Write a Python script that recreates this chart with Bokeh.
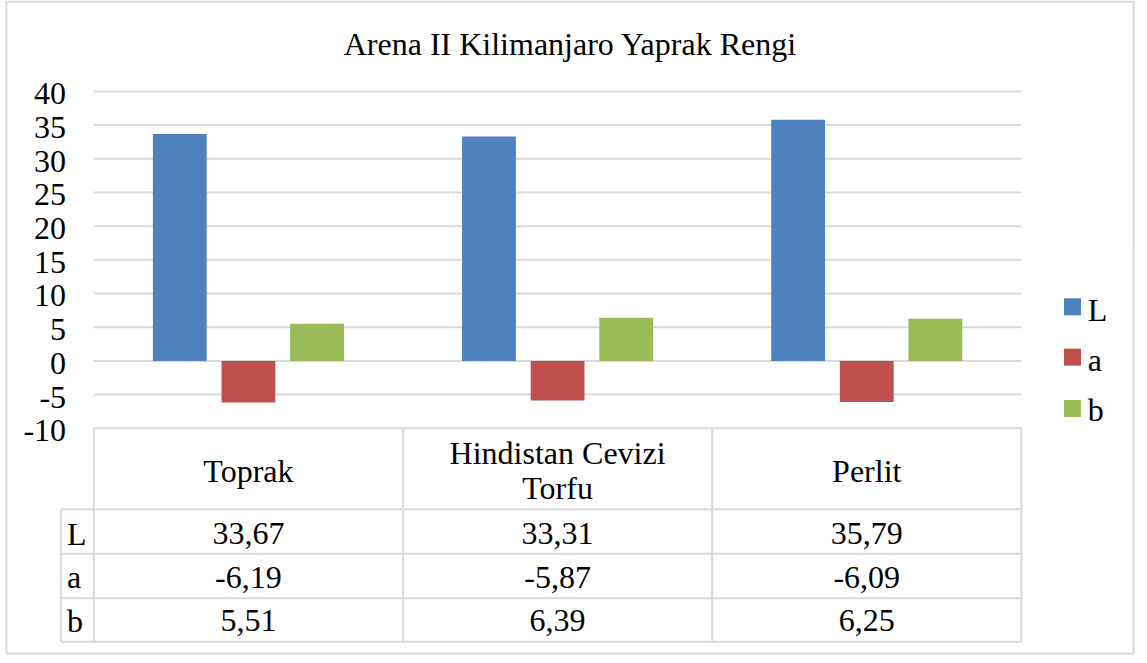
from bokeh.plotting import figure
from bokeh.models import Range1d
from bokeh.core.properties import value
from bokeh.embed import file_html
from bokeh.resources import INLINE

# ---------------- data ----------------
title_text = "Arena II Kilimanjaro Yaprak Rengi"
categories = ["Toprak", "Hindistan Cevizi Torfu", "Perlit"]
category_display = ["Toprak", "Hindistan Cevizi\nTorfu", "Perlit"]
series_names = ["L", "a", "b"]
L_values = [33.67, 33.31, 35.79]
a_values = [-6.19, -5.87, -6.09]
b_values = [5.51, 6.39, 6.25]
y_ticks = [-10, -5, 0, 5, 10, 15, 20, 25, 30, 35, 40]

series_values = [L_values, a_values, b_values]

# ---------------- layout / style ----------------
colors = ["#4F81BD", "#C0504D", "#9BBB59"]
grid_color = "#d9d9d9"
FONT = value("Liberation Serif")
FS = value("32px")
TDY = -8  # text baseline correction (reference px)

W, H = 1139, 655          # canvas size
REF_W, REF_H = 1147, 663  # reference layout size
# plot area in reference px
F_LEFT, F_RIGHT, F_TOP, F_BOTTOM = 94, 1028, 92, 433
Y_MIN, Y_MAX = y_ticks[0], y_ticks[-1]
ncat = len(categories)
px_x = (F_RIGHT - F_LEFT) / ncat
px_y = (F_BOTTOM - F_TOP) / (Y_MAX - Y_MIN)


def X(px):  # reference pixel -> data x
    return (px - F_LEFT) / px_x


def Y(py):  # reference pixel -> data y
    return Y_MAX - (py - F_TOP) / px_y


def TY(py):  # text baseline in reference px -> data y
    return Y(py + TDY)


p = figure(
    width=W, height=H,
    x_range=Range1d(X(0), X(REF_W)),
    y_range=Range1d(Y(REF_H), Y(0)),
    output_backend="svg", toolbar_location=None,
    min_border=0, x_axis_location=None, y_axis_location=None,
)
p.grid.visible = False
p.outline_line_color = None
p.background_fill_color = "white"
p.border_fill_color = "white"

# chart border
p.quad(left=[X(6)], right=[X(1141)], top=[Y(1)], bottom=[Y(661)], fill_color=None,
       line_color=grid_color, line_width=2)

# gridlines
grid_vals = [t for t in y_ticks if t > Y_MIN]
p.segment(x0=[0] * len(grid_vals), x1=[ncat] * len(grid_vals), y0=grid_vals, y1=grid_vals,
          line_color=grid_color, line_width=2)

# y tick labels
p.text(x=[X(66)] * len(y_ticks), y=[t - (10.5 + TDY) / px_y for t in y_ticks], text=[str(t) for t in y_ticks],
       text_align="right", text_baseline="alphabetic", text_font=FONT, text_font_size=FS,
       text_color="black")

# bars
offsets = [-0.222, 0.0, 0.222]
bar_w = 0.174
for vals, off, col in zip(series_values, offsets, colors):
    p.vbar(x=[i + 0.5 + off for i in range(ncat)], top=vals, bottom=0, width=bar_w,
           fill_color=col, line_color=None)

# data table lines
row_label_left = X(61)
table_top = Y_MIN
row_lines = [Y(515), Y(560), Y(605), Y(649)]
p.segment(x0=[0], x1=[ncat], y0=[table_top], y1=[table_top], line_color=grid_color, line_width=2)
p.segment(x0=[row_label_left] * len(row_lines), x1=[ncat] * len(row_lines), y0=row_lines, y1=row_lines,
          line_color=grid_color, line_width=2)
p.segment(x0=list(range(ncat + 1)), x1=list(range(ncat + 1)), y0=[table_top] * (ncat + 1),
          y1=[row_lines[-1]] * (ncat + 1), line_color=grid_color, line_width=2)
p.segment(x0=[row_label_left], x1=[row_label_left], y0=[row_lines[0]], y1=[row_lines[-1]],
          line_color=grid_color, line_width=2)

# header texts
hx, hy, ht = [], [], []
for i, lab in enumerate(category_display):
    lines = lab.split("\n")
    n = len(lines)
    for k, ln in enumerate(lines):
        hx.append(i + 0.5)
        hy.append(TY(484 + (k - (n - 1) / 2) * 35))
        ht.append(ln)
p.text(x=hx, y=hy, text=ht, text_align="center", text_baseline="alphabetic",
       text_font=FONT, text_font_size=FS, text_color="black")

# table values
row_baselines = [548, 592, 636]
vx, vy, vt = [], [], []
for r, vals in enumerate(series_values):
    for i, v in enumerate(vals):
        vx.append(i + 0.5)
        vy.append(TY(row_baselines[r]))
        vt.append(f"{v:.2f}".replace(".", ","))
p.text(x=vx, y=vy, text=vt, text_align="center", text_baseline="alphabetic",
       text_font=FONT, text_font_size=FS, text_color="black")

# row labels
p.text(x=[X(67)] * 3, y=[TY(b) for b in row_baselines], text=series_names, text_align="left",
       text_baseline="alphabetic", text_font=FONT, text_font_size=FS, text_color="black")

# legend
leg_centers = [310, 361, 413]
leg_baselines = [321, 372, 423]
p.rect(x=[X(1079.5)] * 3, y=[Y(c) for c in leg_centers], width=17, height=17,
       width_units="screen", height_units="screen", fill_color=colors, line_color=None)
p.text(x=[X(1095)] * 3, y=[TY(b) for b in leg_baselines], text=series_names, text_align="left",
       text_baseline="alphabetic", text_font=FONT, text_font_size=FS, text_color="black")

# title
p.text(x=[X(574)], y=[TY(52)], text=[title_text], text_align="center", text_baseline="alphabetic",
       text_font=FONT, text_font_size=FS, text_color="black")

open("out.html", "w").write(file_html(p, INLINE))
